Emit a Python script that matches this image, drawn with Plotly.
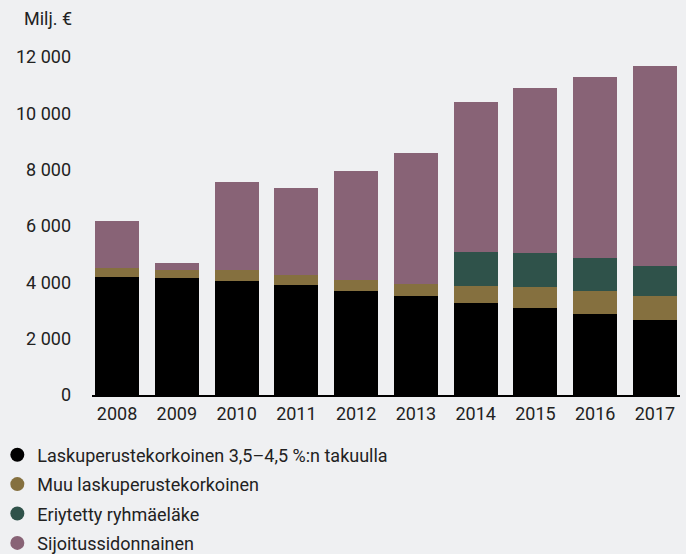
import plotly.graph_objects as go

years = ["2008", "2009", "2010", "2011", "2012", "2013", "2014", "2015", "2016", "2017"]
laskuperuste_35_45 = [4190, 4150, 4050, 3900, 3690, 3510, 3270, 3090, 2880, 2660]
muu_laskuperuste = [320, 290, 390, 350, 390, 430, 600, 740, 810, 850]
eriytetty = [0, 0, 0, 0, 0, 0, 1210, 1210, 1170, 1070]
sijoitussidonnainen = [1670, 250, 3120, 3100, 3870, 4650, 5320, 5860, 6420, 7090]

series_names = [
    "Laskuperustekorkoinen 3,5\u20134,5 %:n takuulla",
    "Muu laskuperustekorkoinen",
    "Eriytetty ryhmäeläke",
    "Sijoitussidonnainen",
]
series_values = [laskuperuste_35_45, muu_laskuperuste, eriytetty, sijoitussidonnainen]
colors = ["#000000", "#85703f", "#2f524a", "#886376"]

y_ticks = [0, 2000, 4000, 6000, 8000, 10000, 12000]

FONT = "Roboto"
TEXT = "#222222"
BG = "#eff0f2"
FS = 18

fig = go.Figure()
for name, vals, col in zip(series_names, series_values, colors):
    fig.add_trace(go.Bar(x=years, y=vals, name=name, marker=dict(color=col, line=dict(width=0)),
                         showlegend=False))
for i, (name, col) in enumerate(zip(series_names, colors)):
    fig.add_trace(go.Scatter(x=[None], y=[None], mode="markers", name=name,
                             legendgroup=f"g{i}",
                             marker=dict(symbol="circle", size=14, color=col)))

fig.update_layout(
    width=686, height=554,
    barmode="stack", bargap=0.265,
    paper_bgcolor=BG, plot_bgcolor=BG,
    separators=", ",
    margin=dict(l=92, r=6, t=57, b=159, autoexpand=False),
    font=dict(family=FONT, size=FS, color=TEXT),
    xaxis=dict(range=[-0.42, 9.42], showgrid=False, showline=True, linecolor="#000000",
               linewidth=2, ticks="", tickfont=dict(size=FS, color=TEXT), ticklabelstandoff=1,
               tickangle=0, zeroline=False, fixedrange=True),
    yaxis=dict(range=[0, 12000], tickvals=y_ticks, tickformat=",d", showgrid=False,
               zeroline=False, showline=False, ticks="", ticklabelstandoff=20,
               tickfont=dict(size=FS, color=TEXT), fixedrange=True),
    legend=dict(xref="paper", yref="paper", x=-0.161, y=-0.1228, xanchor="left", yanchor="top",
                orientation="v", traceorder="grouped", tracegroupgap=3,
                font=dict(size=FS, color=TEXT), bgcolor="rgba(0,0,0,0)", itemwidth=30),
    annotations=[dict(text="Milj. €", xref="paper", yref="paper", x=-0.075, y=1.0,
                      xanchor="center", yanchor="bottom", yshift=26, showarrow=False,
                      font=dict(size=FS, color=TEXT))],
)

fig.write_html(
    "out.html",
    config={"displayModeBar": False},
    post_script="document.body.style.margin='0';document.body.style.background='" + BG + "';",
)
